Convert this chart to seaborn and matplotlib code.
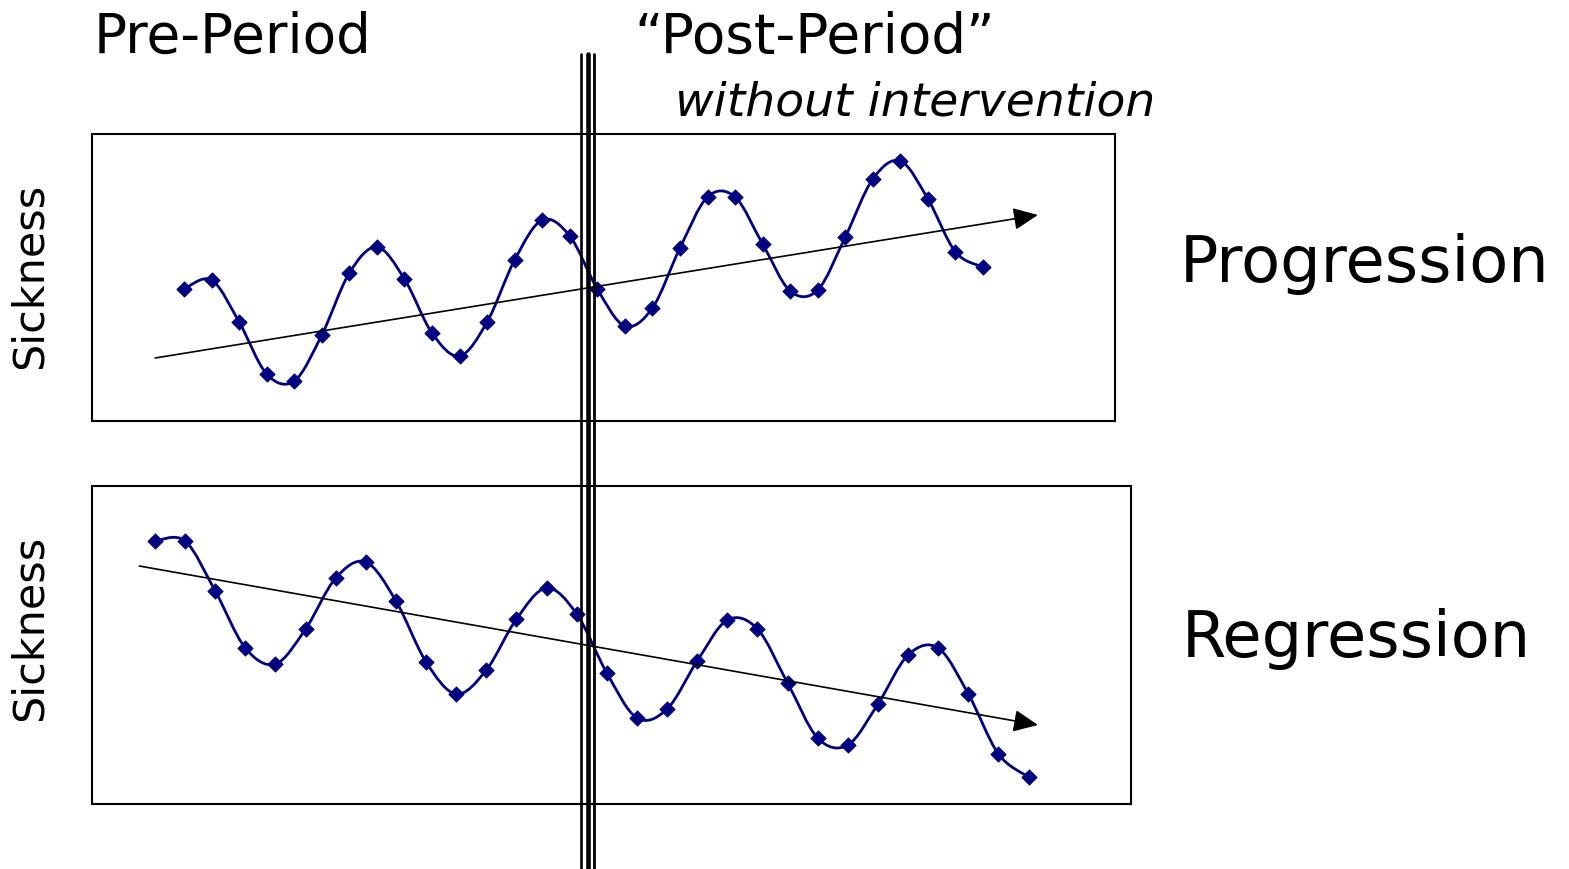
import numpy as np
import matplotlib
matplotlib.use("Agg")
import matplotlib.pyplot as plt
import seaborn as sns
from matplotlib.path import Path
from matplotlib.patches import PathPatch, FancyArrowPatch, ArrowStyle
from matplotlib.lines import Line2D

# ---------------- data ----------------
time_idx = list(range(30))
progression_values = [132, 141, 99, 47, 40, 86, 148, 174, 142, 88,
                      65, 99, 161, 201, 185, 132, 95, 113, 173, 224,
                      224, 177, 130, 131, 184, 242, 260, 222, 169, 154]
regression_values = [263, 263, 213, 156, 140, 175, 226, 242, 203, 142,
                     110, 134, 185, 216, 190, 131, 86, 95, 143, 184,
                     175, 121, 66, 59, 100, 149, 156, 110, 50, 27]
progression_trend = [(-1.05, 63), (30.99, 206)]
regression_trend = [(-0.52, 238), (29.31, 79)]
panel_labels = ["Progression", "Regression"]
y_label = "Sickness"
header_left = "Pre-Period"
header_right = "\u201cPost-Period\u201d"
header_sub = "without intervention"

# ---------------- style ----------------
sns.set_style("white")
plt.rcParams["font.family"] = ["DejaVu Sans"]
plt.rcParams["text.color"] = "black"

W, H = 1569, 870
fig = plt.figure(figsize=(W / 100, H / 100), dpi=100)
fig.patch.set_facecolor("white")


def fx(px):
    return px / W


def fy(py):
    return 1 - py / H


def smooth_path(xs, ys):
    xs = np.asarray(xs, float)
    ys = np.asarray(ys, float)
    pts = np.column_stack([xs, ys])
    n = len(pts)
    verts = [pts[0]]
    codes = [Path.MOVETO]
    for i in range(n - 1):
        p0 = pts[i - 1] if i > 0 else pts[i]
        p1 = pts[i]
        p2 = pts[i + 1]
        p3 = pts[i + 2] if i + 2 < n else pts[i + 1]
        c1 = p1 + (p2 - p0) / 6.0
        c2 = p2 - (p3 - p1) / 6.0
        verts += [c1, c2, p2]
        codes += [Path.CURVE4] * 3
    return Path(verts, codes)


def draw_panel(rect_px, values, trend, xlim, ylim):
    l, t, r, b = rect_px
    ax = fig.add_axes([fx(l), fy(b), (r - l) / W, (b - t) / H])
    ax.set_xlim(*xlim)
    ax.set_ylim(*ylim)
    ax.set_xticks([])
    ax.set_yticks([])
    for s in ax.spines.values():
        s.set_visible(True)
        s.set_color("black")
        s.set_linewidth(1.5)
    ax.add_patch(PathPatch(smooth_path(time_idx, values), facecolor="none",
                           edgecolor="#000080", linewidth=2.0, zorder=2))
    sns.scatterplot(x=time_idx, y=values, marker="D", color="#000080",
                    edgecolor="#000080", s=62, linewidth=0.5, ax=ax, zorder=3,
                    legend=False)
    arr = FancyArrowPatch(trend[0], trend[1],
                          arrowstyle=ArrowStyle("-|>", head_length=15, head_width=6.8),
                          mutation_scale=1, color="black", linewidth=1.2,
                          shrinkA=0, shrinkB=0, zorder=4)
    ax.add_patch(arr)
    return ax


draw_panel((92, 135, 1115, 422), progression_values, progression_trend,
           (-3.34, 33.79), (0, 287))
draw_panel((92, 487, 1131, 805), regression_values, regression_trend,
           (-2.09, 32.4), (0, 318))

# vertical triple divider
for xpx, lw in [(581.2, 1.9), (587.8, 3.3), (594.0, 2.0)]:
    fig.add_artist(Line2D([fx(xpx), fx(xpx)], [fy(55), fy(870)],
                          transform=fig.transFigure, color="black",
                          linewidth=lw, zorder=10))

# texts
fig.text(fx(94), fy(52.7), header_left, fontsize=39.5, va="baseline", ha="left")
fig.text(fx(634), fy(52.7), header_right, fontsize=39.5, va="baseline", ha="left")
fig.text(fx(675), fy(115), header_sub, fontsize=34, style="italic",
         va="baseline", ha="left")
fig.text(fx(1180), fy(282), panel_labels[0], fontsize=46, va="baseline", ha="left")
fig.text(fx(1182), fy(657), panel_labels[1], fontsize=46, va="baseline", ha="left")
fig.text(fx(30), fy(276), y_label, fontsize=31, rotation=90,
         va="center", ha="center")
fig.text(fx(30), fy(628), y_label, fontsize=31, rotation=90,
         va="center", ha="center")

fig.savefig("out.png", dpi=100, facecolor="white")
